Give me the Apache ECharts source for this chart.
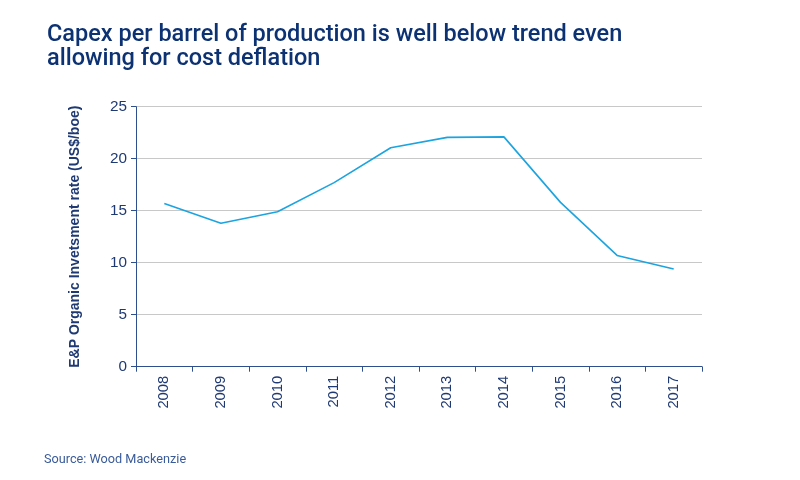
<!DOCTYPE html>
<html>
<head>
<meta charset="utf-8">
<script src="https://cdn.jsdelivr.net/npm/echarts@6/dist/echarts.min.js"></script>
<style>
html,body{margin:0;padding:0;background:#fff;}
#c{width:800px;height:480px;}
</style>
</head>
<body>
<div id="c"></div>
<script>
var categories = ['2008','2009','2010','2011','2012','2013','2014','2015','2016','2017'];
var values = [15.7, 13.8, 14.9, 17.7, 21.05, 22.05, 22.1, 15.8, 10.7, 9.4];
var yTicks = [0, 5, 10, 15, 20, 25];

var chart = echarts.init(document.getElementById('c'));
chart.setOption({
  animation: false,
  backgroundColor: '#ffffff',
  title: [{
    text: 'Capex per barrel of production is well below trend even\nallowing for cost deflation',
    left: 47, top: 23, padding: 0,
    textStyle: {fontFamily: 'Roboto', fontWeight: 500, fontSize: 23.5, color: '#0c3273', lineHeight: 24}
  }, {
    text: 'Source: Wood Mackenzie',
    left: 44, top: 453, padding: 0,
    textStyle: {fontFamily: 'Roboto', fontWeight: 'normal', fontSize: 12.7, color: '#3a5b9a'}
  }],
  grid: {left: 136, right: 98, top: 106.7, bottom: 113.3},
  xAxis: {
    type: 'category',
    data: categories,
    boundaryGap: true,
    axisLine: {lineStyle: {color: '#2d4f8e', width: 1}},
    axisTick: {show: true, length: 5, lineStyle: {color: '#2d4f8e'}},
    axisLabel: {rotate: 90, margin: 9, fontFamily: 'Liberation Sans', fontSize: 14.8, color: '#1f3a73'}
  },
  yAxis: {
    type: 'value',
    min: yTicks[0], max: yTicks[yTicks.length - 1], interval: 5,
    name: 'E&P Organic Invetsment rate (US$/boe)',
    nameLocation: 'middle',
    nameGap: 54,
    nameTextStyle: {fontFamily: 'Liberation Sans', fontWeight: 'bold', fontSize: 14, color: '#1f3a73'},
    axisLine: {show: true, lineStyle: {color: '#2d4f8e', width: 1}},
    axisTick: {show: true, length: 5, lineStyle: {color: '#2d4f8e'}},
    axisLabel: {margin: 9, fontFamily: 'Liberation Sans', fontSize: 15.3, color: '#1f3a73'},
    splitLine: {lineStyle: {color: '#c8c8c8', width: 1}}
  },
  series: [{
    type: 'line',
    data: values,
    symbol: 'none',
    lineStyle: {color: '#1ca4e0', width: 1.6}
  }]
});
</script>
</body>
</html>
